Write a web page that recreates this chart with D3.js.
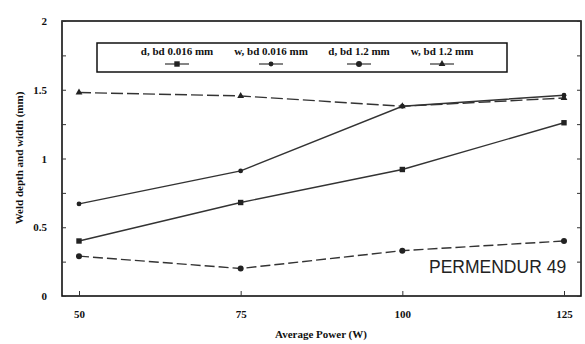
<!DOCTYPE html>
<html>
<head>
<meta charset="utf-8">
<script src="https://cdn.jsdelivr.net/npm/d3@7"></script>
<style>
  html, body { margin: 0; padding: 0; background: #fff; }
  svg { display: block; }
  .serif { font-family: "Liberation Serif", "DejaVu Serif", serif; font-weight: bold; fill: #111; }
</style>
</head>
<body>
<svg id="chart" width="585" height="344"></svg>
<script>
// Average laser power (W)
const powers = [50, 75, 100, 125];

// Weld depth / width (mm) for two beam diameters
const dBd0016 = [0.40, 0.68, 0.92, 1.26];
const wBd0016 = [0.67, 0.91, 1.38, 1.46];
const dBd12   = [0.29, 0.20, 0.33, 0.40];
const wBd12   = [1.48, 1.455, 1.38, 1.44];

const seriesNames = ["d, bd 0.016 mm", "w, bd 0.016 mm", "d, bd 1.2 mm", "w, bd 1.2 mm"];
const yTicks = [0, 0.5, 1, 1.5, 2];
const yTickLabels = ["0", "0.5", "1", "1.5", "2"];
const materialLabel = "PERMENDUR 49";

const series = [
  { name: seriesNames[0], values: dBd0016, marker: "square",   dash: null },
  { name: seriesNames[1], values: wBd0016, marker: "dot",      dash: null },
  { name: seriesNames[2], values: dBd12,   marker: "circle",   dash: "10,4" },
  { name: seriesNames[3], values: wBd12,   marker: "triangle", dash: "12,4" }
];

const svg = d3.select("#chart");
const frame = { left: 62, right: 581, top: 21, bottom: 296 };

const x = d3.scaleLinear().domain([50, 125]).range([79, 564]);
const y = d3.scaleLinear().domain([0, 2]).range([frame.bottom, frame.top]);

// Plot frame
const g = svg.append("g");
g.append("rect")
  .attr("x", frame.left).attr("y", frame.top)
  .attr("width", frame.right - frame.left).attr("height", frame.bottom - frame.top)
  .attr("fill", "none").attr("stroke", "#111").attr("stroke-width", 1.6);

// Left axis: inward ticks, labels outside
const yAxis = d3.axisLeft(y)
  .tickValues(d3.range(0, 2.01, 0.25))
  .tickSizeInner(-4).tickSizeOuter(0)
  .tickFormat(d => {
    const i = yTicks.indexOf(d);
    return i >= 0 ? yTickLabels[i] : "";
  });
const yg = g.append("g").attr("transform", `translate(${frame.left},0)`).call(yAxis);
yg.select(".domain").remove();
yg.selectAll("line").attr("stroke", "#333");
yg.selectAll("text").attr("class", "serif").attr("x", -15)
  .style("font-size", "11px").style("font-family", "Liberation Serif, serif").style("font-weight", "bold");

// Right axis ticks
const yAxisR = d3.axisRight(y).tickValues(d3.range(0, 2.01, 0.25)).tickSizeInner(-4).tickSizeOuter(0).tickFormat("");
const yr = g.append("g").attr("transform", `translate(${frame.right},0)`).call(yAxisR);
yr.select(".domain").remove();
yr.selectAll("line").attr("stroke", "#333");

// Bottom axis
const xAxis = d3.axisBottom(x).tickValues(powers).tickSizeInner(-5).tickSizeOuter(0).tickPadding(14);
const xg = g.append("g").attr("transform", `translate(0,${frame.bottom})`).call(xAxis);
xg.select(".domain").remove();
xg.selectAll("line").attr("stroke", "#333");
xg.selectAll("text")
  .style("font-size", "11px").style("font-family", "Liberation Serif, serif").style("font-weight", "bold").attr("fill", "#111");

// Axis titles
svg.append("text").attr("class", "serif")
  .attr("x", 321).attr("y", 338).attr("text-anchor", "middle")
  .style("font-size", "11px").text("Average Power (W)");
svg.append("text").attr("class", "serif")
  .attr("transform", "translate(23,158) rotate(-90)").attr("text-anchor", "middle")
  .style("font-size", "11px").text("Weld depth and width (mm)");

// Marker drawing
function drawMarker(sel, type) {
  if (type === "square") {
    sel.append("rect").attr("x", -2.7).attr("y", -2.7).attr("width", 5.4).attr("height", 5.4).attr("fill", "#222");
  } else if (type === "dot") {
    sel.append("circle").attr("r", 2.4).attr("fill", "#222");
  } else if (type === "circle") {
    sel.append("circle").attr("r", 3).attr("fill", "#222");
  } else {
    sel.append("path").attr("d", d3.symbol(d3.symbolTriangle, 20)()).attr("fill", "#222");
  }
}

const line = d3.line().x((d, i) => x(powers[i])).y(d => y(d));

series.forEach(s => {
  g.append("path").datum(s.values)
    .attr("d", line)
    .attr("fill", "none").attr("stroke", "#333").attr("stroke-width", 1.4)
    .attr("stroke-dasharray", s.dash);
  s.values.forEach((v, i) => {
    const m = g.append("g").attr("transform", `translate(${x(powers[i])},${y(v)})`);
    drawMarker(m, s.marker);
  });
});

// Legend
const legend = svg.append("g");
legend.append("rect").attr("x", 97).attr("y", 43).attr("width", 410).attr("height", 29)
  .attr("fill", "#fff").attr("stroke", "#111").attr("stroke-width", 1.5);
const legendX = [177, 271, 359, 442];
series.forEach((s, i) => {
  const lg = legend.append("g").attr("transform", `translate(${legendX[i]},0)`);
  lg.append("text").attr("class", "serif").attr("y", 55).attr("text-anchor", "middle")
    .style("font-size", "11px").text(s.name);
  lg.append("line").attr("x1", -12).attr("x2", 12).attr("y1", 64).attr("y2", 64)
    .attr("stroke", "#333").attr("stroke-width", 1.2);
  drawMarker(lg.append("g").attr("transform", "translate(0,64)"), s.marker);
});

// Material label
svg.append("text")
  .attr("x", 429).attr("y", 273)
  .style("font-family", "Liberation Sans, Arial, sans-serif").style("font-size", "17.5px")
  .attr("fill", "#222").text(materialLabel);
</script>
</body>
</html>
